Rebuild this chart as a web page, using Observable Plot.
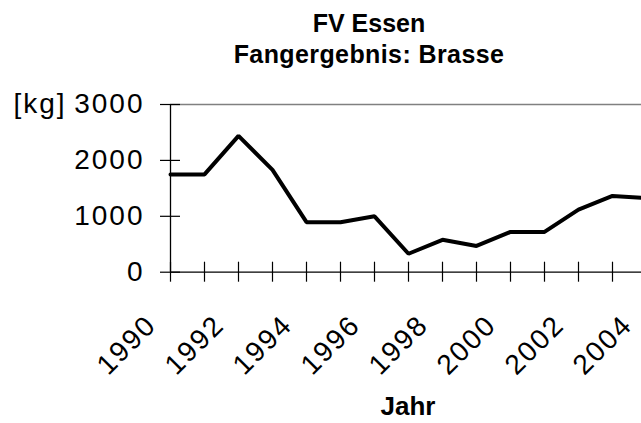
<!DOCTYPE html>
<html><head><meta charset="utf-8">
<script src="https://cdn.jsdelivr.net/npm/d3@7"></script>
<script src="https://cdn.jsdelivr.net/npm/@observablehq/plot@0.6"></script>
<style>
html,body{margin:0;padding:0;background:#fff;overflow:hidden;}
#wrap{position:relative;width:641px;height:423px;overflow:hidden;font-family:"Liberation Sans",Arial,sans-serif;background:#fff;}
.t{position:absolute;text-align:center;font-weight:bold;font-size:25px;color:#000;line-height:30px;white-space:nowrap;}
</style></head><body>
<div id="wrap">
<div id="chart" style="position:absolute;left:0;top:72px;"></div>
<div class="t" style="top:8px;left:0;width:738px;">FV Essen</div>
<div class="t" style="top:39px;left:0;width:738px;letter-spacing:0.4px;">Fangergebnis: Brasse</div>
<div class="t" style="top:391px;left:0;width:816px;font-size:26px;">Jahr</div>
</div>
<script>
const years = [1990,1991,1992,1993,1994,1995,1996,1997,1998,1999,2000,2001,2002,2003,2004];
const catchKg = [1750,1750,2440,1830,895,895,1000,330,580,470,720,720,1120,1365,1325];
const yTicks = [0,1000,2000,3000];
const labelYears = [1990,1992,1994,1996,1998,2000,2002,2004];
const yUnit = "[kg]";

const data = years.map((y,i)=>({year:y, kg:catchKg[i]}));
const font = "Liberation Sans, Arial, sans-serif";
const plot = Plot.plot({
  width: 641, height: 351,
  marginLeft: 170, marginRight: -5, marginTop: 32, marginBottom: 151.3,
  x: {domain: [1990, 2004]},
  y: {domain: [0, 3000]},
  style: {fontFamily: font, background: "white", color: "#000", letterSpacing: "2px"},
  marks: [
    Plot.ruleY([3000], {stroke: "#808080", strokeWidth: 1.3}),
    Plot.ruleX([1990], {y1: 0, y2: 3000, stroke: "#000", strokeWidth: 1.3}),
    Plot.ruleY([0], {stroke: "#000", strokeWidth: 1.3}),
    Plot.ruleX(years, {x: d => d, y1: 0, y2: 0, insetTop: -10, insetBottom: -10, stroke: "#000", strokeWidth: 1.2}),
    Plot.ruleY(yTicks, {y: d => d, x1: 1990, x2: 1990, insetLeft: -10, insetRight: -10, stroke: "#000", strokeWidth: 1.2}),
    Plot.axisY({ticks: yTicks, tickSize: 0, tickPadding: 26, fontSize: 28, tickFormat: d => String(d), label: null}),
    Plot.axisX({ticks: labelYears, tickSize: 0, tickRotate: -45, tickPadding: 48, dx: -19, fontSize: 28, tickFormat: d => String(d), label: null}),
    Plot.text([yUnit], {frameAnchor: "top-left", textAnchor: "start", lineAnchor: "middle", dx: -157, fontSize: 28, fill: "#000"}),
    Plot.line(data, {x: "year", y: "kg", stroke: "#000", strokeWidth: 4, strokeLinejoin: "miter"})
  ]
});
document.getElementById("chart").appendChild(plot);
</script>
</body></html>
